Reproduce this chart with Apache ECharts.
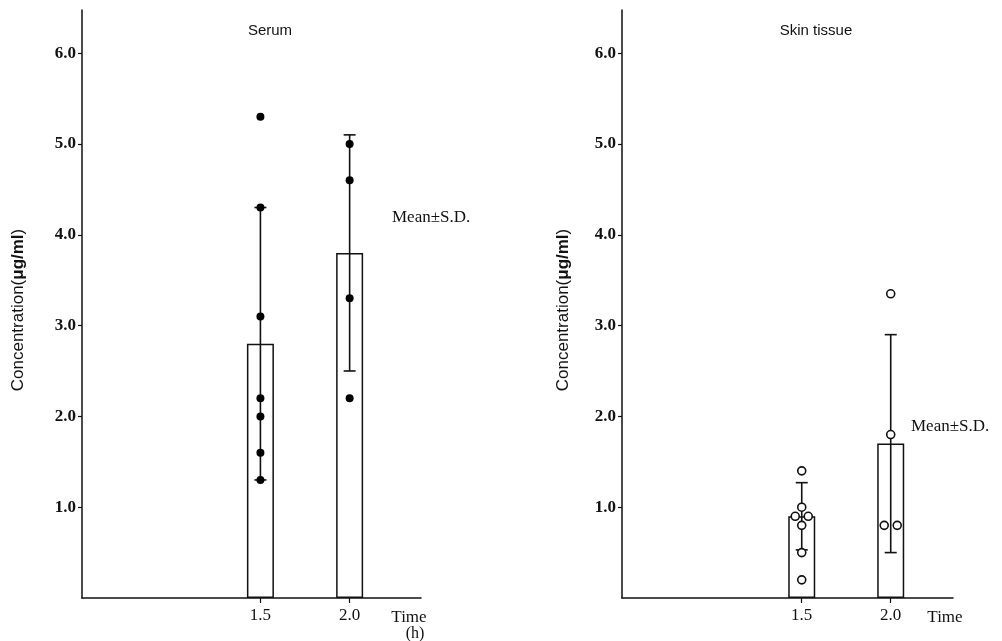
<!DOCTYPE html>
<html>
<head>
<meta charset="utf-8">
<script src="https://cdn.jsdelivr.net/npm/echarts@6/dist/echarts.min.js"></script>
<style>html,body{margin:0;padding:0;background:#fff}#c{width:1002px;height:641px}</style>
</head>
<body>
<div id="c"></div>
<script>
// ---- data ----
const times = [1.5, 2.0];
const timeLabels = ['1.5', '2.0'];
const yTicks = [1, 2, 3, 4, 5, 6];
const serumMean = [2.8, 3.8];
const serumSD = [1.5, 1.3];
const serumPoints15 = [5.3, 4.3, 3.1, 2.2, 2.0, 1.6, 1.3];
const serumPoints20 = [5.0, 4.6, 3.3, 2.2];
const skinMean = [0.9, 1.7];
const skinSD = [0.37, 1.2];
const skinPoints15 = [1.4, 1.0, 0.9, 0.9, 0.8, 0.5, 0.2];
const skinPoints20 = [3.35, 1.8, 0.8, 0.8];
const titles = ['Serum', 'Skin tissue'];
const yNameA = 'Concentration(';
const yNameB = 'μg/ml';
const yNameC = ')';
const xName = 'Time';
const xUnit = '(h)';
const sdNote = 'Mean±S.D.';

// ---- helpers ----
const INK = '#111';
const SERIF = '"Liberation Serif", "DejaVu Serif", serif';
const SANS = '"Liberation Sans", "DejaVu Sans", sans-serif';

function pointData(t, vals) {
  const counts = {};
  vals.forEach(v => counts[v] = (counts[v] || 0) + 1);
  const seen = {};
  return vals.map(v => {
    const n = counts[v];
    const k = seen[v] = (seen[v] === undefined ? 0 : seen[v] + 1);
    return { value: [t, v], symbolOffset: [(k - (n - 1) / 2) * 13, 0] };
  });
}

function panelAxes(i, xmin, xmax) {
  return {
    x: {
      type: 'value', gridIndex: i, min: xmin, max: xmax,
      axisLine: { show: true, lineStyle: { color: INK, width: 1.5 } },
      axisTick: { show: true, customValues: times, length: 5, lineStyle: { color: INK, width: 1.2 } },
      axisLabel: { show: true, customValues: times, margin: 9, color: INK, fontFamily: SERIF, fontSize: 17,
        formatter: v => timeLabels[times.indexOf(v)] || v.toFixed(1) },
      splitLine: { show: false }
    },
    y: {
      type: 'value', gridIndex: i, min: 0, max: 6.475,
      axisLine: { show: true, lineStyle: { color: INK, width: 1.5 } },
      axisTick: { show: true, customValues: yTicks, length: 4, lineStyle: { color: INK, width: 1.2 } },
      axisLabel: { show: true, customValues: yTicks, margin: 6, color: INK, fontFamily: SERIF, fontSize: 17, fontWeight: 'bold',
        formatter: v => v.toFixed(1) },
      splitLine: { show: false }
    }
  };
}

function barSeries(i, means) {
  return {
    type: 'bar', xAxisIndex: i, yAxisIndex: i, barWidth: 27, z: 1,
    data: times.map((t, k) => [t, means[k]]),
    itemStyle: { color: '#fff', borderColor: INK, borderWidth: 1.5 },
    silent: true
  };
}

function errSeries(i, means, sds) {
  return {
    type: 'custom', xAxisIndex: i, yAxisIndex: i, z: 2, silent: true,
    data: times.map((t, k) => [t, means[k], sds[k]]),
    renderItem: function (params, api) {
      const t = api.value(0), m = api.value(1), s = api.value(2);
      const top = api.coord([t, m + s]);
      const bot = api.coord([t, m - s]);
      const hw = 6;
      const st = { stroke: INK, lineWidth: 1.6 };
      return { type: 'group', children: [
        { type: 'line', shape: { x1: top[0], y1: top[1], x2: bot[0], y2: bot[1] }, style: st },
        { type: 'line', shape: { x1: top[0] - hw, y1: top[1], x2: top[0] + hw, y2: top[1] }, style: st },
        { type: 'line', shape: { x1: bot[0] - hw, y1: bot[1], x2: bot[0] + hw, y2: bot[1] }, style: st }
      ]};
    }
  };
}

function scatterSeries(i, data, filled) {
  return {
    type: 'scatter', xAxisIndex: i, yAxisIndex: i, z: 3, silent: true,
    symbol: 'circle', symbolSize: 8,
    itemStyle: filled ? { color: '#000', opacity: 1 } : { color: '#fff', borderColor: INK, borderWidth: 1.6, opacity: 1 },
    data: data
  };
}

const a0 = panelAxes(0, 0.5, 2.4);
const a1 = panelAxes(1, 0.49, 2.35);

const yNameStyle = {
  text: '{a|' + yNameA + '}{b|' + yNameB + '}{a|' + yNameC + '}',
  fill: INK, align: 'center', verticalAlign: 'middle',
  rich: {
    a: { fontFamily: SANS, fontSize: 17, fill: INK },
    b: { fontFamily: SANS, fontSize: 17, fontWeight: 'bold', fill: INK }
  }
};

const option = {
  backgroundColor: '#fff',
  animation: false,
  grid: [
    { left: 82, top: 10, width: 339, height: 588 },
    { left: 622, top: 10, width: 331, height: 588 }
  ],
  xAxis: [a0.x, a1.x],
  yAxis: [a0.y, a1.y],
  series: [
    barSeries(0, serumMean),
    errSeries(0, serumMean, serumSD),
    scatterSeries(0, pointData(times[0], serumPoints15).concat(pointData(times[1], serumPoints20)), true),
    barSeries(1, skinMean),
    errSeries(1, skinMean, skinSD),
    scatterSeries(1, pointData(times[0], skinPoints15).concat(pointData(times[1], skinPoints20)), false)
  ],
  graphic: [
    { type: 'text', x: 270, y: 31, style: { text: titles[0], font: '15px ' + SANS, fill: INK, align: 'center', verticalAlign: 'middle' } },
    { type: 'text', x: 816, y: 31, style: { text: titles[1], font: '15px ' + SANS, fill: INK, align: 'center', verticalAlign: 'middle' } },
    { type: 'text', x: 18, y: 310, rotation: Math.PI / 2, style: yNameStyle },
    { type: 'text', x: 563, y: 310, rotation: Math.PI / 2, style: yNameStyle },
    { type: 'text', x: 409, y: 618, style: { text: xName, font: '17px ' + SERIF, fill: INK, align: 'center', verticalAlign: 'middle' } },
    { type: 'text', x: 415, y: 634, style: { text: xUnit, font: '16px ' + SERIF, fill: INK, align: 'center', verticalAlign: 'middle' } },
    { type: 'text', x: 945, y: 618, style: { text: xName, font: '17px ' + SERIF, fill: INK, align: 'center', verticalAlign: 'middle' } },
    { type: 'text', x: 392, y: 218, style: { text: sdNote, font: '17px ' + SERIF, fill: INK, align: 'left', verticalAlign: 'middle' } },
    { type: 'text', x: 911, y: 427, style: { text: sdNote, font: '17px ' + SERIF, fill: INK, align: 'left', verticalAlign: 'middle' } }
  ]
};

const chart = echarts.init(document.getElementById('c'), null, { renderer: 'canvas' });
chart.setOption(option);
</script>
</body>
</html>
